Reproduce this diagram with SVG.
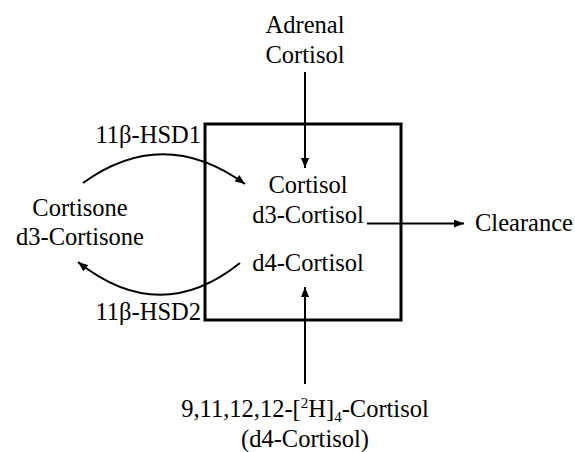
<svg xmlns="http://www.w3.org/2000/svg" width="575" height="452" viewBox="0 0 575 452">
<defs>
<marker id="ah" viewBox="0 0 10 8" refX="10" refY="4" markerWidth="10" markerHeight="8" markerUnits="userSpaceOnUse" orient="auto">
<path d="M0,0 L10,4 L0,8 Z" fill="#000"/>
</marker>
</defs>
<style>
text{font-family:"Liberation Serif","Times New Roman",serif;font-size:24.5px;fill:#000}
.c{text-anchor:middle}
.r{text-anchor:end}
.ln{fill:none;stroke:#000;stroke-width:2}
</style>
<rect width="575" height="452" fill="#fff"/>
<g id="box">
<rect x="205" y="124" width="196" height="196" fill="none" stroke="#000" stroke-width="3"/>
</g>
<g id="adrenal">
<text class="c" x="305" y="33">Adrenal</text>
<text class="c" x="305" y="63">Cortisol</text>
</g>
<g id="pool">
<text class="c" x="308" y="193">Cortisol</text>
<text class="c" x="308" y="223">d3-Cortisol</text>
<text class="c" x="308" y="271">d4-Cortisol</text>
</g>
<g id="clearance">
<text x="475" y="231">Clearance</text>
</g>
<g id="cortisone">
<text class="c" x="80" y="216">Cortisone</text>
<text class="c" x="80" y="245">d3-Cortisone</text>
</g>
<g id="hsd1"><text class="r" x="201" y="143">11β-HSD1</text></g>
<g id="hsd2"><text class="r" x="201" y="320">11β-HSD2</text></g>
<g id="tracer">
<text class="c" x="305" y="417">9,11,12,12-[<tspan font-size="15" dy="-9">2</tspan><tspan dy="9">H]</tspan><tspan font-size="15" dy="5">4</tspan><tspan dy="-5">-Cortisol</tspan></text>
<text class="c" x="305" y="447">(d4-Cortisol)</text>
</g>
<g id="connectors">
<line class="ln" x1="305" y1="72" x2="305" y2="168" marker-end="url(#ah)"/>
<line class="ln" x1="305" y1="384" x2="305" y2="287" marker-end="url(#ah)"/>
<line class="ln" x1="367" y1="223.5" x2="464" y2="223.5" marker-end="url(#ah)"/>
<path class="ln" d="M83,183 Q163,125 245,184" marker-end="url(#ah)"/>
<path class="ln" d="M240,263 Q160,327 78,262" marker-end="url(#ah)"/>
</g>
</svg>
